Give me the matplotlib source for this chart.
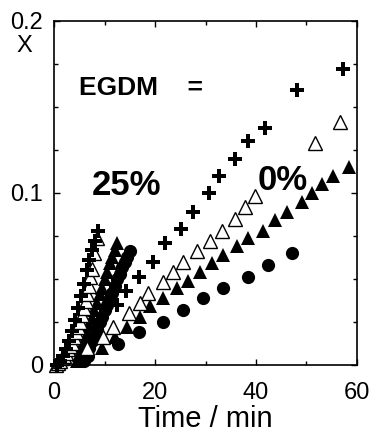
import matplotlib
matplotlib.use('Agg')
import matplotlib.pyplot as plt
from matplotlib.ticker import MultipleLocator

# EGDM = 0 %
plus_0_t = [57.2, 48.1, 41.8, 38.4, 35.8, 32.7, 30.7, 27.5, 25.1, 22.0, 19.6, 16.8, 14.3, 12.5]
plus_0_x = [0.172, 0.160, 0.138, 0.130, 0.120, 0.110, 0.100, 0.089, 0.079, 0.071, 0.060, 0.051, 0.043, 0.035]
otri_0_t = [56.6, 51.7, 39.8, 37.8, 35.8, 33.3, 30.9, 28.3, 25.5, 23.6, 21.6, 18.6, 17.0, 14.9, 11.7, 9.7, 6.5]
otri_0_x = [0.141, 0.129, 0.098, 0.092, 0.085, 0.078, 0.072, 0.066, 0.060, 0.054, 0.048, 0.042, 0.036, 0.030, 0.022, 0.016, 0.010]
ftri_0_t = [58.4, 55.2, 53.1, 51.1, 49.1, 46.1, 43.8, 41.4, 38.4, 36.2, 33.5, 31.3, 28.9, 26.5, 24.4, 21.6, 19.0, 17.0, 14.5, 12.0, 9.5]
ftri_0_x = [0.115, 0.110, 0.105, 0.100, 0.095, 0.089, 0.084, 0.078, 0.074, 0.069, 0.064, 0.059, 0.054, 0.049, 0.045, 0.039, 0.034, 0.028, 0.022, 0.016, 0.010]
circ_0_t = [47.1, 42.4, 38.4, 33.5, 29.5, 25.5, 21.6, 16.9, 12.7, 6.8]
circ_0_x = [0.065, 0.058, 0.051, 0.045, 0.039, 0.032, 0.025, 0.019, 0.012, 0.005]

# EGDM = 25 %
plus_25_t = [0.5, 1.2, 1.8, 2.4, 3.0, 3.6, 4.2, 4.8, 5.4, 6.0, 6.5, 7.0, 7.5, 8.1, 8.7]
plus_25_x = [0.000, 0.002, 0.005, 0.009, 0.014, 0.020, 0.026, 0.033, 0.040, 0.047, 0.055, 0.061, 0.067, 0.072, 0.078]
otri_25_t = [0.3, 0.8, 1.2, 1.6, 2.0, 2.4, 2.8, 3.2, 3.6, 4.0, 4.4, 4.8, 5.2, 5.6, 6.0, 6.3, 6.6, 6.9, 7.2, 7.5, 8.0, 8.5]
otri_25_x = [0.000, 0.001, 0.002, 0.004, 0.005, 0.007, 0.009, 0.011, 0.013, 0.016, 0.019, 0.022, 0.025, 0.029, 0.033, 0.037, 0.041, 0.046, 0.051, 0.056, 0.065, 0.074]
ftri_25_t = [4.5, 5.0, 5.5, 6.0, 6.5, 7.0, 7.5, 8.0, 8.5, 9.0, 9.5, 10.0, 10.5, 11.0, 11.5, 12.0, 12.5]
ftri_25_x = [0.002, 0.006, 0.010, 0.014, 0.018, 0.023, 0.027, 0.032, 0.036, 0.041, 0.045, 0.050, 0.054, 0.059, 0.063, 0.067, 0.071]
circ_25_t = [6.0, 6.5, 7.0, 7.5, 8.0, 8.5, 9.0, 9.5, 10.0, 10.5, 11.0, 11.5, 12.0, 12.5, 13.0, 13.5, 14.0, 14.5, 15.0]
circ_25_x = [0.002, 0.006, 0.010, 0.014, 0.017, 0.021, 0.025, 0.028, 0.032, 0.035, 0.039, 0.042, 0.046, 0.050, 0.053, 0.057, 0.060, 0.063, 0.066]

xticks = [0, 20, 40, 60]
yticks = [0, 0.1, 0.2]
ytick_labels = ['0', '0.1', '0.2']

plt.rcParams['font.family'] = ['Liberation Sans', 'DejaVu Sans']

fig = plt.figure(figsize=(3.73, 4.36), dpi=100)
ax = fig.add_axes([0.145, 0.163, 0.812, 0.789])

# circles, filled triangles, open triangles, pluses
for t, x in [(circ_0_t, circ_0_x), (circ_25_t, circ_25_x)]:
    ax.plot(t, x, 'o', color='k', ms=9.5, mew=0, clip_on=False)
for t, x in [(ftri_0_t, ftri_0_x), (ftri_25_t, ftri_25_x)]:
    ax.plot(t, x, '^', color='k', ms=10.5, mew=0, clip_on=False)
for t, x in [(otri_0_t, otri_0_x), (otri_25_t, otri_25_x)]:
    ax.plot(t, x, '^', mfc='white', mec='k', ms=10, mew=1.0, clip_on=False)
for t, x in [(plus_0_t, plus_0_x), (plus_25_t, plus_25_x)]:
    ax.plot(t, x, 'P', color='k', ms=9.5, mew=0, clip_on=False)

ax.set_xlim(0, 60)
ax.set_ylim(0, 0.2)
ax.set_xticks(xticks)
ax.set_xticklabels([str(v) for v in xticks])
ax.xaxis.set_minor_locator(MultipleLocator(10))
ax.set_yticks(yticks)
ax.set_yticklabels(ytick_labels)
ax.yaxis.set_minor_locator(MultipleLocator(0.025))
ax.tick_params(which='both', direction='in', top=True, right=True, labelsize=17, width=1)
ax.tick_params(which='major', length=4)
ax.tick_params(which='minor', length=3)
ax.tick_params(axis='x', pad=12)
ax.tick_params(axis='y', pad=8)
for s in ax.spines.values():
    s.set_linewidth(1.2)

ax.set_xlabel('Time / min', fontsize=21, labelpad=1)
fig.text(0.065, 0.895, 'X', fontsize=17, ha='center', va='center')

ax.text(5, 0.161, 'EGDM    =', fontsize=19, fontweight='bold', va='center')
ax.text(7.4, 0.1045, '25%', fontsize=25, fontweight='bold', va='center')
ax.text(40.3, 0.1075, '0%', fontsize=25, fontweight='bold', va='center')

fig.savefig('out.png', dpi=100)
